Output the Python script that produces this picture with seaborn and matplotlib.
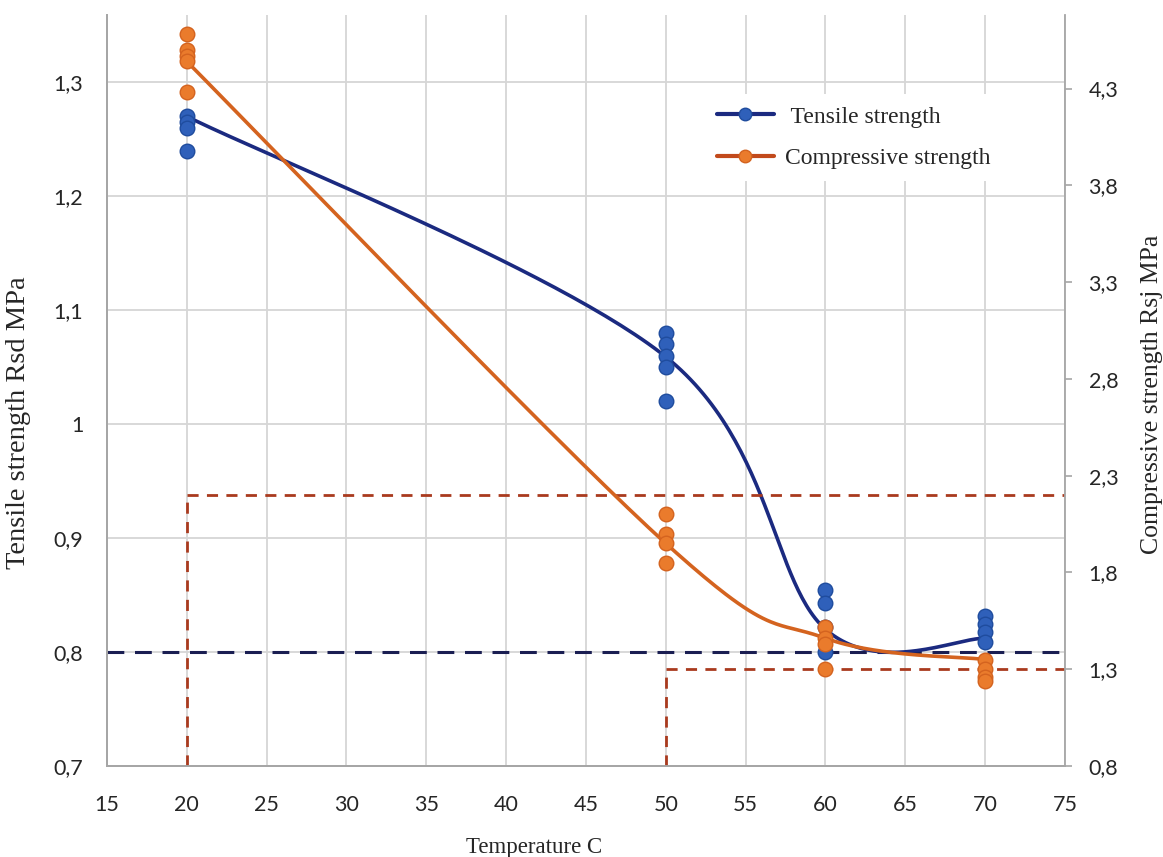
import numpy as np
import pandas as pd
import matplotlib
matplotlib.use("Agg")
import matplotlib.pyplot as plt
from matplotlib.lines import Line2D
from matplotlib.ticker import FuncFormatter
import seaborn as sns

# measured points (temperature, value)
tens_x = [20, 20, 20, 20, 50, 50, 50, 50, 50, 60, 60, 60, 60, 70, 70, 70, 70]
tens_y = [1.27, 1.265, 1.26, 1.24, 1.08, 1.07, 1.06, 1.05, 1.02,
          0.854, 0.843, 0.822, 0.80, 0.832, 0.825, 0.818, 0.809]
comp_x = [20, 20, 20, 20, 20, 50, 50, 50, 50, 60, 60, 60, 60, 70, 70, 70, 70]
comp_y = [4.58, 4.50, 4.47, 4.44, 4.28, 2.10, 2.00, 1.95, 1.85,
          1.52, 1.46, 1.43, 1.30, 1.35, 1.30, 1.26, 1.24]

# curve through the mean values
temps = [20, 50, 60, 70]
tens_line = [1.27, 1.059, 0.82, 0.812]
comp_line = [4.44, 1.95, 1.46, 1.35]

# limit lines
tens_limit = 0.8
comp_limit_x = [20, 50]
comp_limit_y = [2.2, 1.3]

x_ticks = [15, 20, 25, 30, 35, 40, 45, 50, 55, 60, 65, 70, 75]
left_ticks = [0.7, 0.8, 0.9, 1.0, 1.1, 1.2, 1.3]
right_ticks = [0.8, 1.3, 1.8, 2.3, 2.8, 3.3, 3.8, 4.3]


def smooth(xs, ys, n=60):
    # excel style smoothed line (bezier with 1/6 tangents)
    p = np.column_stack([xs, ys]).astype(float)
    p = np.vstack([p[0], p, p[-1]])
    t = np.linspace(0, 1, n)[:, None]
    segs = []
    for i in range(1, len(p) - 2):
        p0, p1, p2, p3 = p[i - 1], p[i], p[i + 1], p[i + 2]
        c1 = p1 + (p2 - p0) / 6
        c2 = p2 - (p3 - p1) / 6
        segs.append((1 - t) ** 3 * p1 + 3 * (1 - t) ** 2 * t * c1
                    + 3 * (1 - t) * t ** 2 * c2 + t ** 3 * p2)
    s = np.vstack(segs)
    return pd.DataFrame({"x": s[:, 0], "y": s[:, 1]})


sns.set_theme(style="white")
plt.rcParams["font.family"] = ["Lato", "DejaVu Sans"]

navy = "#1B2A80"
blue = "#2F60BA"
orange_line = "#D4631F"
orange = "#EA7B2C"
red = "#A93A1E"

fig = plt.figure(figsize=(11.63, 8.57), dpi=100)
ax = fig.add_axes([0.092, 0.1062, 0.8237, 0.8763])
ax2 = ax.twinx()

tens_df = pd.DataFrame({"x": tens_x, "y": tens_y})
comp_df = pd.DataFrame({"x": comp_x, "y": comp_y})

# tensile on left axis
ax.axhline(tens_limit, color="#1A1E52", lw=2.2, dashes=(5.5, 3.5), zorder=2)
sns.lineplot(data=smooth(temps, tens_line), x="x", y="y", ax=ax, sort=False,
             estimator=None, color=navy, lw=2.6, zorder=3)
sns.scatterplot(data=tens_df, x="x", y="y", ax=ax, color=blue, s=110,
                edgecolor="#1F4C9E", linewidth=1, zorder=4)

# compressive on right axis
ax2.vlines(comp_limit_x, 0.8, comp_limit_y, colors=red, lw=2, linestyles=(0, (4, 3)))
ax2.hlines(comp_limit_y, comp_limit_x, 75, colors=red, lw=2, linestyles=(0, (4, 3)))
sns.lineplot(data=smooth(temps, comp_line), x="x", y="y", ax=ax2, sort=False,
             estimator=None, color=orange_line, lw=2.6, zorder=3)
sns.scatterplot(data=comp_df, x="x", y="y", ax=ax2, color=orange, s=110,
                edgecolor=orange_line, linewidth=1, zorder=4)

ax.set_xlim(15, 75)
ax.set_ylim(0.7, 1.359)
ax2.set_ylim(0.8, 4.68)
ax.set_xticks(x_ticks)
ax.set_yticks(left_ticks)
ax2.set_yticks(right_ticks)

fmt = FuncFormatter(lambda v, pos: f"{v:g}".replace(".", ","))
ax.yaxis.set_major_formatter(fmt)
ax2.yaxis.set_major_formatter(fmt)

ax.grid(True, color="#D6D6D6", lw=1.3)
ax.set_axisbelow(True)
ax2.grid(False)

for a in (ax, ax2):
    for s in a.spines.values():
        s.set_color("#A6A6A6")
        s.set_linewidth(1.3)
    a.spines["top"].set_visible(False)
ax.spines["right"].set_visible(False)

ax.tick_params(axis="x", length=0, pad=21, labelsize=15.5, labelcolor="#262626")
ax.tick_params(axis="y", length=0, pad=17, labelsize=15.5, labelcolor="#262626")
ax2.tick_params(axis="y", length=5, width=1.2, color="#A6A6A6", pad=12,
                labelsize=15.5, labelcolor="#262626")

serif = ["Liberation Serif", "DejaVu Serif"]
ax.set_xlabel("Temperature C", fontfamily=serif, fontsize=16.5, color="#262626")
ax.set_ylabel("Tensile strength Rsd MPa", fontfamily=serif, fontsize=20.5, color="#262626")
ax2.set_ylabel("Compressive strength Rsj MPa", fontfamily=serif, fontsize=18.5,
               color="#262626", rotation=90)
for lab in (ax.xaxis.label, ax.yaxis.label, ax2.yaxis.label):
    lab.set_va("center")
    lab.set_ha("center")
ax.xaxis.set_label_coords(0.446, -0.108)
ax.yaxis.set_label_coords(-0.092, 0.457)
ax2.yaxis.set_label_coords(1.091, 0.495)

handles = [
    Line2D([], [], color=navy, lw=3, marker="o", ms=9, markerfacecolor=blue,
           markeredgecolor="#1F4C9E"),
    Line2D([], [], color="#C24A1C", lw=3, marker="o", ms=9, markerfacecolor=orange,
           markeredgecolor=orange_line),
]
leg = ax2.legend(handles, [" Tensile strength", "Compressive strength"],
                 loc="upper left", bbox_to_anchor=(0.612, 0.91),
                 prop={"family": serif, "size": 17}, frameon=True,
                 facecolor="white", edgecolor="none", framealpha=1,
                 handlelength=2.4, handletextpad=0.5, labelspacing=0.85,
                 borderpad=0.5, fancybox=False)
for t in leg.get_texts():
    t.set_color("#262626")

fig.savefig("out.png", dpi=100)
